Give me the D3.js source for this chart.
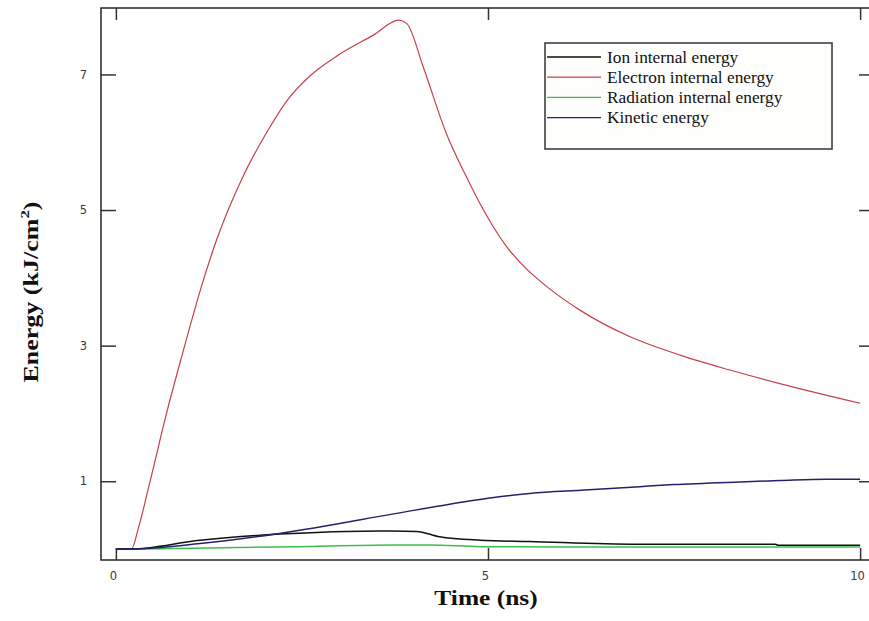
<!DOCTYPE html>
<html>
<head>
<meta charset="utf-8">
<script src="https://cdn.jsdelivr.net/npm/d3@7"></script>
<style>
  html, body { margin: 0; padding: 0; background: #ffffff; }
  svg { display: block; }
</style>
</head>
<body>
<svg id="chart" width="869" height="621"></svg>
<script>
// Energy partition versus time (ns), in kJ/cm^2
const ionTime = [0, 0.19, 1.13, 2.2, 3.1, 3.7, 4.04, 4.35, 4.9, 5.56, 7.0, 8.86, 8.9, 10];
const ionEnergy = [0, 0, 0.13, 0.22, 0.26, 0.265, 0.26, 0.18, 0.13, 0.11, 0.07, 0.07, 0.055, 0.055];

const electronTime = [0, 0.21, 0.30, 0.46, 0.68, 0.90, 1.13, 1.35, 1.71, 2.03, 2.29, 2.61, 3.01, 3.46, 3.80, 3.91, 4.13, 4.44, 4.71, 4.89, 5.25, 5.50, 5.79, 6.24, 6.91, 7.58, 8.25, 8.92, 10];
const electronEnergy = [0, 0, 0.30, 1.00, 2.00, 2.90, 3.80, 4.55, 5.50, 6.15, 6.60, 6.98, 7.30, 7.58, 7.80, 7.75, 7.11, 6.13, 5.49, 5.10, 4.46, 4.15, 3.87, 3.52, 3.13, 2.86, 2.64, 2.44, 2.15];

const radiationTime = [0, 0.19, 1.0, 2.43, 3.72, 4.2, 4.9, 6.0, 10];
const radiationEnergy = [0, 0, 0.01, 0.035, 0.06, 0.06, 0.035, 0.03, 0.03];

const kineticTime = [0, 0.19, 1.13, 2.2, 4.0, 5.0, 5.56, 6.3, 7.04, 7.49, 8.39, 8.92, 9.55, 10];
const kineticEnergy = [0, 0, 0.08, 0.23, 0.57, 0.75, 0.82, 0.87, 0.92, 0.95, 0.99, 1.01, 1.03, 1.03];

const seriesNames = ["Ion internal energy", "Electron internal energy", "Radiation internal energy", "Kinetic energy"];
const seriesColors = ["#111111", "#c8404a", "#3cbf4a", "#22226e"];

const xTicks = [0, 5, 10];
const yTicks = [1, 3, 5, 7];
const xTitle = "Time (ns)";

const svg = d3.select("#chart");

// plot frame (the right edge sits just past the window)
const frame = { left: 101, right: 875, top: 8, bottom: 560 };

const x = d3.scaleLinear().domain([-0.2, 10.2]).range([frame.left, frame.right]);
const y = d3.scaleLinear().domain([-0.162, 7.98]).range([frame.bottom, frame.top]);

const toPoints = (ts, vs) => ts.map((t, i) => [t, vs[i]]);
const series = [
  toPoints(ionTime, ionEnergy),
  toPoints(electronTime, electronEnergy),
  toPoints(radiationTime, radiationEnergy),
  toPoints(kineticTime, kineticEnergy)
];

const smooth = d3.line().x(d => x(d[0])).y(d => y(d[1])).curve(d3.curveMonotoneX);

// curves, drawn so the low-lying ones stay readable
const drawOrder = [1, 2, 0, 3];
svg.append("g").selectAll("path")
  .data(drawOrder)
  .join("path")
  .attr("d", i => smooth(series[i]))
  .attr("fill", "none")
  .attr("stroke", i => seriesColors[i])
  .attr("stroke-width", i => i === 1 ? 1.2 : 1.5)
  .attr("stroke-linejoin", "round");

// frame
svg.append("rect")
  .attr("x", frame.left).attr("y", frame.top)
  .attr("width", frame.right - frame.left)
  .attr("height", frame.bottom - frame.top)
  .attr("fill", "none")
  .attr("stroke", "#333")
  .attr("stroke-width", 1.6);

// inward ticks on all four sides
const styleAxis = g => {
  g.select(".domain").remove();
  g.selectAll(".tick line").attr("stroke", "#333").attr("stroke-width", 1.5);
  g.selectAll(".tick text")
    .attr("fill", "#3a3a3a")
    .attr("font-family", "'DejaVu Sans', Verdana, sans-serif")
    .attr("font-size", 11.5);
};

svg.append("g")
  .attr("transform", `translate(0,${frame.bottom})`)
  .call(d3.axisBottom(x).tickValues(xTicks).tickFormat(d3.format("d")).tickSize(-12).tickPadding(12))
  .call(styleAxis)
  .call(g => g.selectAll(".tick text").attr("dx", -3));

svg.append("g")
  .attr("transform", `translate(0,${frame.top})`)
  .call(d3.axisTop(x).tickValues(xTicks).tickFormat("").tickSize(-12))
  .call(styleAxis);

svg.append("g")
  .attr("transform", `translate(${frame.left},0)`)
  .call(d3.axisLeft(y).tickValues(yTicks).tickFormat(d3.format("d")).tickSize(-15).tickPadding(14))
  .call(styleAxis);

svg.append("g")
  .attr("transform", `translate(${frame.right},0)`)
  .call(d3.axisRight(y).tickValues(yTicks).tickFormat("").tickSize(-16))
  .call(styleAxis);

// axis titles (bold serif, a little wide)
svg.append("text")
  .attr("transform", "translate(486,605) scale(1.27,1)")
  .attr("text-anchor", "middle")
  .attr("font-family", "'Liberation Serif', 'Times New Roman', serif")
  .attr("font-weight", "bold")
  .attr("font-size", 20)
  .attr("fill", "#111")
  .text(xTitle);

const yTitle = svg.append("text")
  .attr("transform", "translate(38,292) rotate(-90) scale(1.3,1)")
  .attr("text-anchor", "middle")
  .attr("font-family", "'Liberation Serif', 'Times New Roman', serif")
  .attr("font-weight", "bold")
  .attr("font-size", 20)
  .attr("fill", "#111");
yTitle.append("tspan").text("Energy (kJ/cm");
yTitle.append("tspan").attr("font-size", 13).attr("dy", -9).text("2");
yTitle.append("tspan").attr("dy", 9).text(")");

// legend
const legend = svg.append("g").attr("transform", "translate(545,43)");
legend.append("rect")
  .attr("width", 287).attr("height", 106)
  .attr("fill", "#fefefc")
  .attr("stroke", "#333")
  .attr("stroke-width", 1.5);

const rows = legend.selectAll("g.row")
  .data(seriesNames)
  .join("g")
  .attr("class", "row")
  .attr("transform", (d, i) => `translate(0,${14 + i * 20.2})`);

rows.append("line")
  .attr("x1", 2).attr("x2", 56)
  .attr("stroke", (d, i) => seriesColors[i])
  .attr("stroke-width", 1.3);

rows.append("text")
  .attr("x", 62)
  .attr("dy", "0.32em")
  .attr("font-family", "'Liberation Serif', 'Times New Roman', serif")
  .attr("font-size", 17.3)
  .attr("fill", "#111")
  .text(d => d);
</script>
</body>
</html>
